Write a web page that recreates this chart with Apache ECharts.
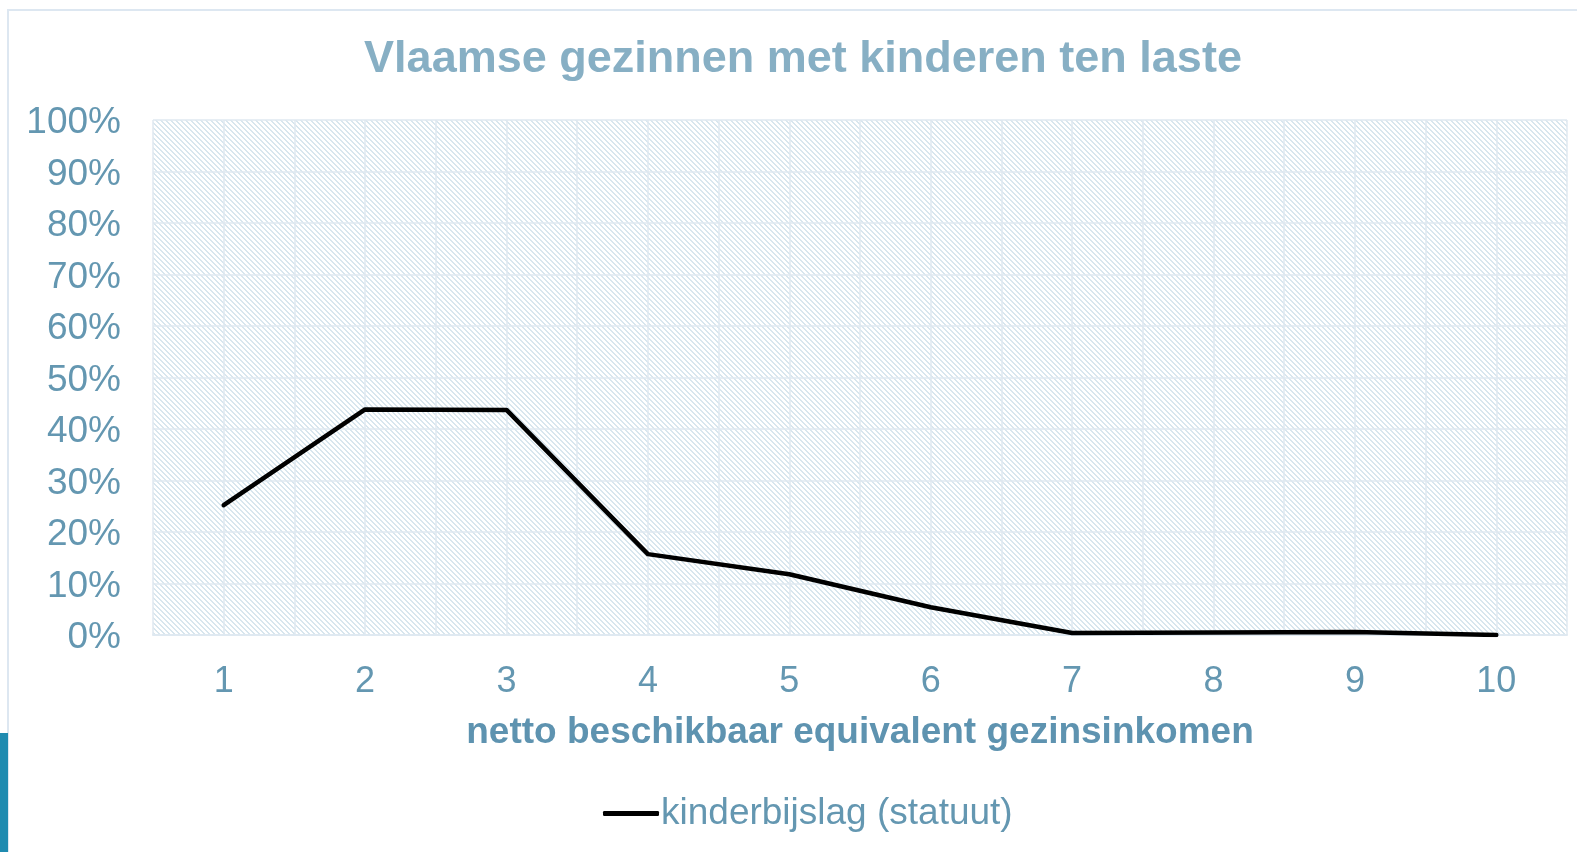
<!DOCTYPE html>
<html>
<head>
<meta charset="utf-8">
<script src="https://cdn.jsdelivr.net/npm/echarts@6/dist/echarts.min.js"></script>
<style>
  html, body { margin: 0; padding: 0; background: #fff; }
  #chart { width: 1577px; height: 852px; }
</style>
</head>
<body>
<div id="chart"></div>
<script>
// deciles of the netto beschikbaar equivalent gezinsinkomen
var categories = ['1', '2', '3', '4', '5', '6', '7', '8', '9', '10'];
// share (%) receiving kinderbijslag (statuut)
var kinderbijslag = [25.2, 43.8, 43.7, 15.7, 11.8, 5.4, 0.4, 0.5, 0.6, 0.0];
var yTicks = [0, 10, 20, 30, 40, 50, 60, 70, 80, 90, 100];

// hatched plot background
var hatch = document.createElement('canvas');
hatch.width = 5;
hatch.height = 5;
var hctx = hatch.getContext('2d');
hctx.fillStyle = '#ffffff';
hctx.fillRect(0, 0, 5, 5);
hctx.fillStyle = '#d8e6ee';
for (var i = 0; i < 5; i++) {
  hctx.fillRect(i, i, 1, 1);
  hctx.fillRect((i + 1) % 5, i, 1, 1);
}

var labelColor = '#6497b1';
var gridColor = '#dfe9f1';

var myChart = echarts.init(document.getElementById('chart'));
var option = {
  backgroundColor: '#ffffff',
  animation: false,
  title: {
    text: 'Vlaamse gezinnen met kinderen ten laste',
    left: 798,
    top: 32,
    textAlign: 'center',
    textStyle: {
      fontFamily: 'Liberation Sans, Arial, sans-serif',
      fontSize: 45,
      fontWeight: 'bold',
      color: '#87afc4'
    }
  },
  legend: {
    left: 598,
    top: 790,
    itemWidth: 56,
    itemHeight: 5,
    data: [{ name: 'kinderbijslag (statuut)', icon: 'roundRect' }],
    textStyle: {
      fontFamily: 'Liberation Sans, Arial, sans-serif',
      fontSize: 37,
      color: labelColor,
      padding: [0, 0, 0, -3]
    }
  },
  grid: {
    left: 153,
    right: 10,
    top: 120,
    bottom: 217,
    show: true,
    borderWidth: 0,
    backgroundColor: { image: hatch, repeat: 'repeat' }
  },
  xAxis: {
    type: 'value',
    min: 0.5,
    max: 10.5,
    interval: 0.5,
    name: 'netto beschikbaar equivalent gezinsinkomen',
    nameLocation: 'middle',
    nameGap: 79,
    nameTextStyle: {
      fontFamily: 'Liberation Sans, Arial, sans-serif',
      fontSize: 37,
      fontWeight: 'bold',
      color: '#5e93b0'
    },
    axisLine: { show: true, lineStyle: { color: gridColor, width: 2 } },
    axisTick: { show: false },
    axisLabel: {
      margin: 29,
      fontFamily: 'Liberation Sans, Arial, sans-serif',
      fontSize: 36,
      color: labelColor,
      showMinLabel: false,
      showMaxLabel: false,
      formatter: function (v) {
        var k = Math.round(v);
        return Math.abs(v - k) < 1e-6 && categories[k - 1] ? categories[k - 1] : '';
      }
    },
    splitLine: { show: true, lineStyle: { color: gridColor, width: 1.5 } }
  },
  yAxis: {
    type: 'value',
    min: yTicks[0],
    max: yTicks[yTicks.length - 1],
    interval: 10,
    axisLine: { show: false },
    axisTick: { show: false },
    axisLabel: {
      margin: 32,
      formatter: function (v) { return '{v|' + v + '%}'; },
      rich: {
        v: {
          fontFamily: 'Liberation Sans, Arial, sans-serif',
          fontSize: 37,
          color: labelColor,
          padding: [6, 0, 0, 0]
        }
      }
    },
    splitLine: { show: true, lineStyle: { color: gridColor, width: 1.5 } }
  },
  series: [
    {
      name: 'kinderbijslag (statuut)',
      type: 'line',
      symbol: 'none',
      data: kinderbijslag.map(function (v, i) { return [i + 1, v]; }),
      lineStyle: { color: '#000000', width: 4.5, cap: 'round', join: 'round' },
      itemStyle: { color: '#000000' }
    }
  ],
  graphic: [
    {
      type: 'rect',
      shape: { x: 8, y: 10, width: 1600, height: 900 },
      style: { fill: 'none', stroke: '#dde7f1', lineWidth: 2 },
      silent: true
    },
    {
      type: 'rect',
      shape: { x: 0, y: 733, width: 8, height: 120 },
      style: { fill: '#1f8bb0' },
      silent: true
    }
  ]
};
option && myChart.setOption(option);
</script>
</body>
</html>
